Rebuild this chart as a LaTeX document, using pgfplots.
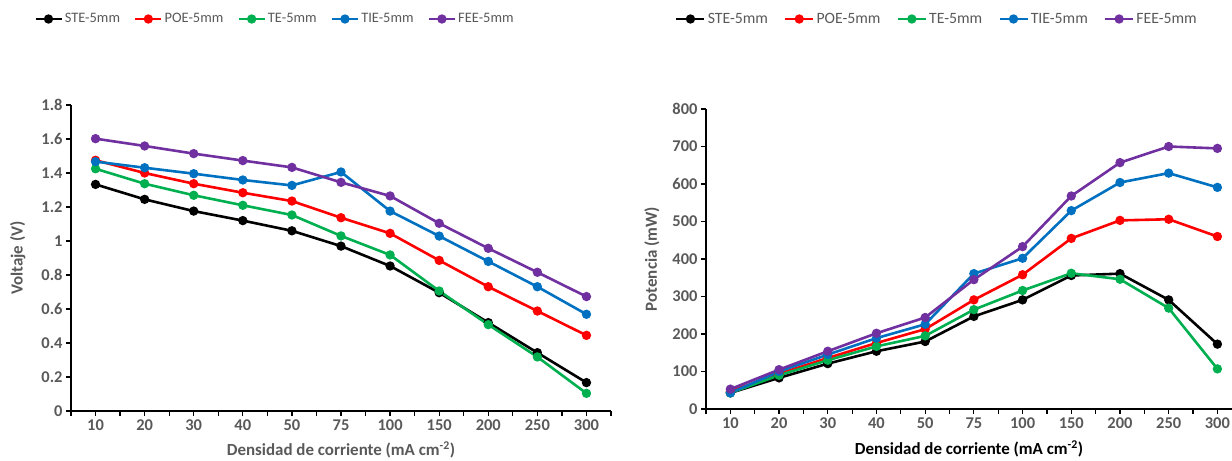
\documentclass[border=0pt]{standalone}
\usepackage{pgfplots}
\pgfplotsset{compat=1.18}
\usepackage{fontspec}
\setmainfont{Carlito}
\definecolor{cgrey}{HTML}{595959}
\definecolor{cred}{HTML}{FF0000}
\definecolor{cgreen}{HTML}{00B050}
\definecolor{cblue}{HTML}{0070C0}
\definecolor{cpurple}{HTML}{7030A0}

\pgfplotstableread{
x STE POE TE TIE FEE
0 1.333 1.475 1.425 1.467 1.602
1 1.245 1.400 1.337 1.431 1.559
2 1.176 1.337 1.269 1.396 1.514
3 1.120 1.284 1.210 1.359 1.473
4 1.060 1.235 1.153 1.327 1.433
5 0.970 1.137 1.030 1.406 1.345
6 0.853 1.045 0.918 1.176 1.265
7 0.696 0.886 0.706 1.029 1.104
8 0.520 0.731 0.508 0.880 0.957
9 0.343 0.588 0.318 0.731 0.816
10 0.167 0.445 0.104 0.569 0.673
}\voltdata

\pgfplotstableread{
x STE POE TE TIE FEE
0 43 47 43 43 53
1 83 94 90 100 105
2 121 136 130 145 154
3 154 176 167 189 202
4 180 213 195 226 244
5 247 291 265 361 345
6 291 358 316 402 433
7 356 455 362 529 568
8 361 503 346 604 657
9 291 506 269 629 700
10 173 460 107 591 695
}\powdata

\newcommand{\tickfont}{\fontsize{16.5}{18}\selectfont\bfseries}
\newcommand{\lblfont}{\fontsize{17}{19}\selectfont\bfseries}
\pgfplotsset{
  every axis/.append style={
    scale only axis,
    axis x line*=bottom, axis y line*=left,
    axis line style={-, line width=1.4bp, black},
    tick align=outside,
    major tick length=5bp, minor tick length=5bp,
    every tick/.style={black, line width=1.2bp},
    xtick={0,...,10},
    xticklabels={10,20,30,40,50,75,100,150,200,250,300},
    minor xtick={-0.5,0.5,...,10.5},
    ticklabel style={font=\tickfont, text=cgrey},
    /pgf/number format/assume math mode=true,
    legend columns=5,
    legend style={draw=none, fill=none, text=cgrey, inner sep=0pt},
    every axis plot/.append style={line width=2.6bp, mark=*, mark size=3.3bp},
  },
}

\begin{document}
\begin{tikzpicture}
\path[use as bounding box] (0,0) rectangle (1232bp,-461bp);

\begin{axis}[
  at={(71bp,-411bp)}, anchor=south west,
  width=540bp, height=306bp,
  xmin=-0.5, xmax=10.5, ymin=0, ymax=1.8,
  ytick={0,0.2,...,1.8},
  ylabel={Voltaje (V)},
  xlabel={Densidad de corriente (mA cm\textsuperscript{-2})},
  every axis y label/.style={at={(axis description cs:-0.0985,0.5)}, rotate=90, anchor=center, font=\lblfont, text=cgrey},
  every axis x label/.style={at={(axis description cs:0.5,-0.127)}, anchor=center, font=\lblfont, text=cgrey},
  legend style={at={(axis description cs:-0.0685,1.281)}, anchor=west,
    font=\fontsize{14.5}{16}\selectfont,
    /tikz/every even column/.append style={column sep=12bp}},
  legend image code/.code={
    \draw[mark repeat=2,mark phase=2,#1] plot coordinates {(0bp,0bp) (13bp,0bp) (26bp,0bp)};},
]
\addplot[black, mark options={fill=black}] table[x=x,y=STE] {\voltdata};
\addplot[cred, mark options={fill=cred}] table[x=x,y=POE] {\voltdata};
\addplot[cgreen, mark options={fill=cgreen}] table[x=x,y=TE] {\voltdata};
\addplot[cblue, mark options={fill=cblue}] table[x=x,y=TIE] {\voltdata};
\addplot[cpurple, mark options={fill=cpurple}] table[x=x,y=FEE] {\voltdata};
\legend{STE-5mm,POE-5mm,TE-5mm,TIE-5mm,FEE-5mm}
\end{axis}

\begin{axis}[
  at={(706bp,-409bp)}, anchor=south west,
  width=526bp, height=300bp,
  xmin=-0.5, xmax=10.3, ymin=0, ymax=800,
  ytick={0,100,...,800},
  ylabel={Potencia (mW)},
  xlabel={Densidad de corriente (mA cm\textsuperscript{-2})},
  every axis y label/.style={at={(axis description cs:-0.103,0.5)}, rotate=90, anchor=center, font=\lblfont, text=cgrey},
  every axis x label/.style={at={(axis description cs:0.5,-0.133)}, anchor=center, font=\lblfont, text=black},
  legend style={at={(axis description cs:-0.059,1.3)}, anchor=west,
    font=\fontsize{15.8}{17}\selectfont,
    /tikz/every even column/.append style={column sep=14bp}},
  legend image code/.code={
    \draw[mark repeat=2,mark phase=2,#1] plot coordinates {(0bp,0bp) (14bp,0bp) (28bp,0bp)};},
]
\addplot[black, mark options={fill=black}] table[x=x,y=STE] {\powdata};
\addplot[cred, mark options={fill=cred}] table[x=x,y=POE] {\powdata};
\addplot[cgreen, mark options={fill=cgreen}] table[x=x,y=TE] {\powdata};
\addplot[cblue, mark options={fill=cblue}] table[x=x,y=TIE] {\powdata};
\addplot[cpurple, mark options={fill=cpurple}] table[x=x,y=FEE] {\powdata};
\legend{STE-5mm,POE-5mm,TE-5mm,TIE-5mm,FEE-5mm}
\end{axis}
\end{tikzpicture}
\end{document}
